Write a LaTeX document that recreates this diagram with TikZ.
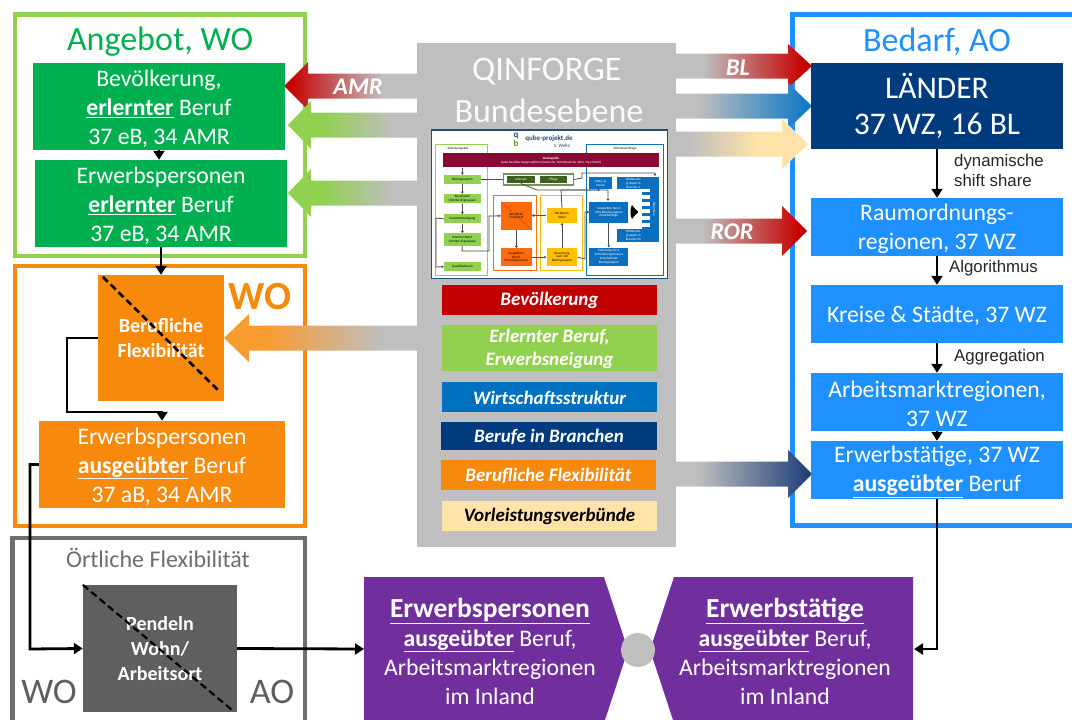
\documentclass[tikz,border=0pt]{standalone}
\usepackage{fontspec}
\setmainfont{Carlito}
\newfontfamily\arialf{Liberation Sans}
\usetikzlibrary{arrows.meta}
\definecolor{panelgrey}{HTML}{BFBFBF}
\definecolor{gframe}{HTML}{92D050}
\definecolor{ggreen}{HTML}{00B050}
\definecolor{oframe}{HTML}{F78A0C}
\definecolor{gyframe}{HTML}{6E6E6E}
\definecolor{dgrey}{HTML}{5F5F5F}
\definecolor{bframe}{HTML}{1E90FF}
\definecolor{navy}{HTML}{003C7D}
\definecolor{purp}{HTML}{702F9C}
\definecolor{bred}{HTML}{C00000}
\definecolor{bblue}{HTML}{0070C0}
\definecolor{byellow}{HTML}{FFE3A8}
\definecolor{wine}{HTML}{8B0A35}
\definecolor{tgreen}{HTML}{92D050}
\definecolor{tdgreen}{HTML}{3F5F1F}
\definecolor{torange}{HTML}{FF6A0A}
\definecolor{tyellow}{HTML}{FFC000}
\definecolor{tblue}{HTML}{0B6FBF}
\definecolor{tnavy}{HTML}{1F4E79}
\definecolor{arrnavy}{HTML}{1F3F78}
\pgfdeclarehorizontalshading{gradred}{100bp}{color(0bp)=(bred!90!red);color(27bp)=(bred!90!red);color(62bp)=(panelgrey);color(100bp)=(panelgrey)}
\pgfdeclarehorizontalshading{gradgreen}{100bp}{color(0bp)=(gframe);color(38bp)=(gframe);color(66bp)=(panelgrey);color(100bp)=(panelgrey)}
\pgfdeclarehorizontalshading{gradorange}{100bp}{color(0bp)=(oframe!85!white);color(36bp)=(oframe!85!white);color(66bp)=(panelgrey);color(100bp)=(panelgrey)}
\pgfdeclarehorizontalshading{gradredr}{100bp}{color(0bp)=(panelgrey);color(35bp)=(panelgrey);color(72bp)=(bred!90!red);color(100bp)=(bred!90!red)}
\pgfdeclarehorizontalshading{gradbluer}{100bp}{color(0bp)=(panelgrey);color(33bp)=(panelgrey);color(72bp)=(bblue!92!white);color(100bp)=(bblue!92!white)}
\pgfdeclarehorizontalshading{gradyellowr}{100bp}{color(0bp)=(panelgrey);color(30bp)=(panelgrey);color(56bp)=(byellow);color(100bp)=(byellow)}
\pgfdeclarehorizontalshading{gradnavyr}{100bp}{color(0bp)=(panelgrey);color(33bp)=(panelgrey);color(74bp)=(arrnavy);color(100bp)=(arrnavy)}
\tikzset{
  boxtext/.style={inner sep=0pt,align=center,text=white,font=\fontsize{23.7}{29}\selectfont},
  titletext/.style={inner sep=0pt,font=\fontsize{34}{38}\selectfont},
  smalllabel/.style={inner sep=0pt,anchor=west,align=left,text=black!85,font=\arialf\fontsize{16.8}{20}\selectfont},
  barlabel/.style={inner sep=0pt,align=center,text=white,font=\fontsize{19}{23}\selectfont\bfseries\itshape},
  arrowlabel/.style={inner sep=0pt,text=white,font=\fontsize{24}{26}\selectfont\bfseries\itshape},
  conn/.style={draw=black,line width=2.8pt,-{Triangle[length=9pt,width=11pt]}},
  frameline/.style={line width=4.6pt},
  tinytext/.style={inner sep=0pt,align=center,font=\fontsize{3.3}{3.9}\selectfont},
  tconn/.style={draw=black!70,line width=0.8pt,-{Triangle[length=2.2pt,width=2.8pt]}},
}
\def\pxdrop{2}
% box from pixel corners: fill drawn by the named node, text by a second node over it
\newcommand{\pxbox}[7]{%
  \pgfmathsetmacro{\pxw}{#4-#2}\pgfmathsetmacro{\pxh}{#5-#3}%
  \pgfmathsetmacro{\pxcx}{(#2+#4)/2}\pgfmathsetmacro{\pxcy}{(#3+#5)/2}%
  \node[#6,minimum width=\pxw pt,minimum height=\pxh pt] (#1) at (\pxcx,\pxcy) {};
  \node[#6,fill=none,draw=none,yshift=-\pxdrop pt] (#1t) at (\pxcx,\pxcy) {#7};}
% box from thumbnail zoom coordinates
\newcommand{\tbbox}[7]{%
  \pgfmathsetmacro{\tba}{425+(#2)/3}\pgfmathsetmacro{\tbb}{125+(#3)/3}%
  \pgfmathsetmacro{\tbc}{425+(#4)/3}\pgfmathsetmacro{\tbd}{125+(#5)/3}%
  \pxbox{#1}{\tba}{\tbb}{\tbc}{\tbd}{tinytext,#6}{#7}}
% gradient block arrow: tipx basex endx y halfhead halfshaft shading
\newcommand{\gradarrow}[7]{%
  \shade[shading=#7] (#1,#4) -- (#2,#4-#5) -- (#2,#4-#6) -- (#3,#4-#6) -- (#3,#4+#6) -- (#2,#4+#6) -- (#2,#4+#5) -- cycle;}
\newcommand{\ul}[1]{\underline{\textbf{#1}}}
\begin{document}
\begin{tikzpicture}[x=1pt,y=-1pt]
\clip (0,0) rectangle (1072,720);
\fill[white] (0,0) rectangle (1072,720);
% frames
\draw[frameline,draw=gframe] (15,14.5) rectangle (305,256);
\draw[frameline,draw=oframe] (15,266) rectangle (305,526);
\draw[frameline,draw=gyframe] (12.5,538) rectangle (305,730);
\draw[frameline,draw=bframe] (792.5,14.5) rectangle (1090,525.5);
% centre panel
\pxbox{panel}{417}{43}{676}{547}{fill=panelgrey,inner sep=0pt}{}
\node[inner sep=0pt,text=white!94!panelgrey,font=\fontsize{34.5}{38}\selectfont] (qtitle) at (547,72) {QINFORGE};
\node[inner sep=0pt,text=white!94!panelgrey,font=\fontsize{34}{38}\selectfont] (qsub) at (549,111) {Bundesebene};
% gradient arrows
\gradarrow{284}{308}{417}{86}{24}{12.5}{gradred}
\gradarrow{288}{311}{417}{125}{24}{12.5}{gradgreen}
\gradarrow{288}{311}{417}{193}{24}{12.5}{gradgreen}
\gradarrow{224}{249}{417}{338}{24}{12.5}{gradorange}
\gradarrow{812}{788}{676}{66}{22}{12.5}{gradredr}
\gradarrow{812}{788}{676}{106}{23}{12.5}{gradbluer}
\gradarrow{808}{782}{676}{144}{25}{12.5}{gradyellowr}
\gradarrow{807}{782}{676}{231}{25}{12.5}{gradredr}
\gradarrow{812}{788}{676}{474}{24}{12.5}{gradnavyr}
\node[arrowlabel] (lamr) at (358,87) {AMR};
\node[arrowlabel] (lbl) at (738,68) {BL};
\node[arrowlabel] (lror) at (732,232) {ROR};
% titles
\node[titletext,text=ggreen] (tang) at (160,42) {Angebot, WO};
\node[titletext,text=bframe] (tbed) at (937,42) {Bedarf, AO};
% left boxes
\pxbox{bev}{33}{63}{285}{150}{boxtext,fill=ggreen}{Bevölkerung,\\ \ul{erlernter} Beruf\\37 eB, 34 AMR}
\pxbox{erl}{35}{160}{287}{247}{boxtext,fill=ggreen}{Erwerbspersonen\\ \ul{erlernter} Beruf\\37 eB, 34 AMR}
\pxbox{flex}{98}{275}{224}{401}{fill=oframe}{}
\node[inner sep=0pt,align=center,text=white,font=\fontsize{20}{25}\selectfont\bfseries] (flext) at (161,338) {Berufliche\\Flexibilität};
\draw[line width=2.6pt,dash pattern=on 7pt off 4pt] (flex.north west)++(5,2) -- (219,391);
\node[inner sep=0pt,text=oframe,font=\fontsize{40}{44}\selectfont\bfseries] (wolab) at (260,297) {WO};
\pxbox{aus}{39}{421}{285}{508}{boxtext,fill=oframe}{Erwerbspersonen\\ \ul{ausgeübter} Beruf\\37 aB, 34 AMR}
\node[inner sep=0pt,text=gyframe,font=\fontsize{24}{26}\selectfont] (oert) at (158,558) {Örtliche Flexibilität};
\pxbox{pend}{83}{585}{237}{712}{fill=dgrey}{}
\node[inner sep=0pt,align=center,text=white,font=\fontsize{20}{25}\selectfont\bfseries] (pendt) at (160,649) {Pendeln\\Wohn/\\Arbeitsort};
\draw[line width=2.2pt,dash pattern=on 7pt off 4pt] (pend.north west) -- (232,710);
\node[inner sep=0pt,text=dgrey,font=\fontsize{36}{40}\selectfont] (wol) at (49,692) {WO};
\node[inner sep=0pt,text=dgrey,font=\fontsize{36}{40}\selectfont] (aol) at (272,692) {AO};
% right boxes
{\def\pxdrop{0}
\pxbox{laen}{811}{63}{1063}{149}{boxtext,fill=navy,font=\fontsize{31.5}{36}\selectfont}{LÄNDER\\37 WZ, 16 BL}}
\pxbox{raum}{811}{198}{1063}{256}{boxtext,fill=bframe}{Raumordnungs-\\regionen, 37 WZ}
\pxbox{kreis}{811}{285}{1063}{343}{boxtext,fill=bframe}{Kreise \& Städte, 37 WZ}
\pxbox{amr}{811}{373}{1063}{431}{boxtext,fill=bframe}{Arbeitsmarktregionen,\\37 WZ}
\pxbox{erwt}{811}{441}{1063}{499}{boxtext,fill=bframe}{Erwerbstätige, 37 WZ\\ \ul{ausgeübter} Beruf}
\node[smalllabel] (ldyn) at (954,170) {dynamische\\shift share};
\node[smalllabel] (lalg) at (949,268) {Algorithmus};
\node[smalllabel] (lagg) at (954,357) {Aggregation};
% purple result shapes
\fill[purp] (364,577) -- (604,577) -- (628,650) -- (604,723) -- (364,723) -- cycle;
\fill[purp] (674,577) -- (650,650) -- (674,723) -- (913,723) -- (913,577) -- cycle;
\node[inner sep=0pt,fill=panelgrey,circle,minimum size=34pt] (kreis0) at (638,650) {};
\node[boxtext] (pl) at (490,651) {{\fontsize{27.5}{29}\selectfont\ul{Erwerbspersonen}}\\ \ul{ausgeübter} Beruf,\\Arbeitsmarktregionen\\im Inland};
\node[boxtext] (pr) at (785,651) {{\fontsize{27.5}{29}\selectfont\ul{Erwerbstätige}}\\ \ul{ausgeübter} Beruf,\\Arbeitsmarktregionen\\im Inland};
\coordinate (pleft) at (364,649);
\coordinate (pright) at (914,649);
% connectors
\draw[conn] (bev.south) -- (erl.north -| bev.south);
\draw[conn] (erl.south) -- (flext |- flex.north);
\draw[conn] (flex.west) -- (67,338) -- (67,412) -- (162,412) -- (aus.north);
\draw[conn] (aus.west) -- (30,464.5) -- (30,649) -- (pend.west);
\draw[conn] (pend.east) -- (pleft);
\draw[conn] (laen.south) -- (raum.north);
\draw[conn] (raum.south) -- (kreis.north);
\draw[conn] (kreis.south) -- (amr.north);
\draw[conn] (amr.south) -- (erwt.north);
\draw[conn] (erwt.south) -- (937,649) -- (pright);
% legend bars
\def\pxdrop{0.5}
\pxbox{b1}{442}{285}{657}{315}{barlabel,fill=bred}{Bevölkerung}
\pxbox{b2}{442}{325}{657}{371}{barlabel,fill=gframe}{Erlernter Beruf,\\Erwerbsneigung}
\pxbox{b3}{442}{382}{657}{412}{barlabel,fill=bblue}{Wirtschaftsstruktur}
\pxbox{b4}{441}{422}{657}{450}{barlabel,fill=navy}{Berufe in Branchen}
\pxbox{b5}{441}{460}{656}{490}{barlabel,fill=oframe}{Berufliche Flexibilität}
\pxbox{b6}{442}{501}{657}{531}{barlabel,fill=byellow,text=black}{Vorleistungsverbünde}
% thumbnail
\def\pxdrop{0}
\tbbox{th}{20}{15}{728}{460}{draw=tnavy,line width=1.6pt,fill=white}{}
\node[inner sep=0pt,text=tnavy,font=\fontsize{9}{9}\selectfont\bfseries] (thq) at (516,136) {q};
\node[inner sep=0pt,text=gframe!70!black,font=\fontsize{9}{9}\selectfont\bfseries] (thb) at (516,143) {b};
\node[inner sep=0pt,text=tnavy,font=\fontsize{7}{8}\selectfont\bfseries] (thl) at (549,139) {qube-projekt.de};
\node[inner sep=0pt,text=tnavy,font=\fontsize{5}{6}\selectfont] (ths) at (562,146) {S. Welle};
\tbbox{thag}{32}{58}{188}{450}{draw=tgreen,line width=0.9pt}{}
\tbbox{thna}{485}{58}{716}{450}{draw=tblue,line width=0.9pt}{}
\node[tinytext] (thagl) at (458,149) {Arbeitsangebot};
\node[tinytext] (thnal) at (625,149) {Arbeitsnachfrage};
\tbbox{dem}{55}{85}{702}{127}{fill=wine,text=white}{\textbf{Demografie}\\Qube-Bevölkerungsprojektion (Deutsche, Nichtdeutsche, Alter, Geschlecht)}
\tbbox{bild}{57}{150}{167}{177}{fill=tgreen}{Bildungssystem}
\tbbox{wahl}{57}{207}{167}{235}{fill=tgreen}{Berufswahl\\(100 Berufsgruppen)}
\tbbox{ebet}{57}{268}{167}{295}{fill=tgreen}{Erwerbsbeteiligung}
\tbbox{ebf}{57}{325}{167}{362}{fill=tgreen}{Erlernter Beruf\\(100 Berufsgruppen)}
\tbbox{qual}{57}{412}{167}{438}{fill=tgreen}{Qualifikationen}
\tbbox{olg}{235}{147}{445}{180}{draw=tdgreen!70,line width=1.2pt}{}
\tbbox{lohn}{245}{152}{330}{175}{fill=tdgreen,text=white}{Lohnrate}
\tbbox{pfl}{345}{152}{425}{175}{fill=tdgreen,text=white}{Pflege}
\tbbox{thof}{205}{212}{335}{435}{draw=torange,line width=1pt}{}
\tbbox{thyf}{345}{212}{472}{435}{draw=tyellow,line width=1pt}{}
\tbbox{bfl}{228}{230}{320}{315}{fill=torange}{Berufliche\\Flexibilität}
\draw[draw=torange!70!black,line width=0.3pt] (bfl.north west) -- (bfl.south east);
\tbbox{abe}{228}{370}{320}{423}{fill=torange}{Ausgeübter\\Beruf\\Erwerbspersonen}
\tbbox{bfe}{365}{250}{457}{293}{fill=tyellow}{100 Berufs-\\felder}
\tbbox{bew}{365}{370}{457}{423}{fill=tyellow}{Bewertung\\nach 100\\Berufsgruppen}
\tbbox{lp}{493}{155}{560}{193}{fill=tblue,text=white}{Löhne \&\\Preise}
\tbbox{br1}{575}{155}{675}{193}{fill=tblue,text=white}{100 Berufs-\\gruppen in\\Branche 1}
\tbbox{aet}{493}{230}{610}{293}{fill=tblue,text=white}{Ausgeübter Beruf\\(100 Berufsgruppen)\\Erwerbstätige}
\tbbox{br6}{575}{313}{675}{350}{fill=tblue,text=white}{100 Berufs-\\gruppen in\\Branche 63}
\tbbox{erk}{493}{368}{610}{423}{fill=tblue,text=white}{Erklärung von 3\\Anforderungsniveaus\\innerhalb der\\Berufsgruppen}
\tbbox{oek}{675}{155}{702}{350}{fill=tblue,text=white}{}
\node[tinytext,text=white,rotate=-90] (oekl) at (654.5,209) {Ökonomie};
\foreach \zy in {200,221,242,263,284,305}{
  \fill[tblue] (650/3+425,\zy/3+125) rectangle (675/3+425,\zy/3+125+3);
}
\fill[black] (632,205) .. controls (634,208) and (636,210) .. (638.5,212) .. controls (636,214) and (634,216) .. (632,219) .. controls (630,216) and (630,208) .. (632,205) -- cycle;
\draw[tconn] (dem.south -| bild) -- (bild.north);
\draw[tconn] (bild.south) -- (wahl.north);
\draw[tconn] (wahl.south) -- (ebet.north);
\draw[tconn] (ebet.south) -- (ebf.north);
\draw[tconn] (ebet.west) -- (436,218) -- (436,267) -- (qual.west);
\draw[draw=black!70,line width=0.8pt] (bild.east) -- (olg.west);
\draw[tconn] (ebf.south) -- (462,251) -- (489,251) -- (489,216) -- (bfl.west);
\draw[tconn] (bfl.south) -- (abe.north);
\draw[tconn] (abe.east) -- (bew.west);
\draw[tconn] (bew.north) -- (bfe.south);
\draw[tconn] (bfe.west) -- (bfl.east |- bfe.west);
\draw[tconn] (lohn.south) -- (537,190) -- (608,190) -- (608,201);
\draw[tconn] (olg.east) -- (582,178) -- (582,173) -- (655,173) -- (655,176);
\draw[tconn] (aet.south) -- (erk.north);
\draw[tconn] (bew.east) -- (585,259) -- (585,212) -- (aet.west);
\draw[tconn] (bfe.north) -- (561,190) -- (600,190);
\end{tikzpicture}
\end{document}
